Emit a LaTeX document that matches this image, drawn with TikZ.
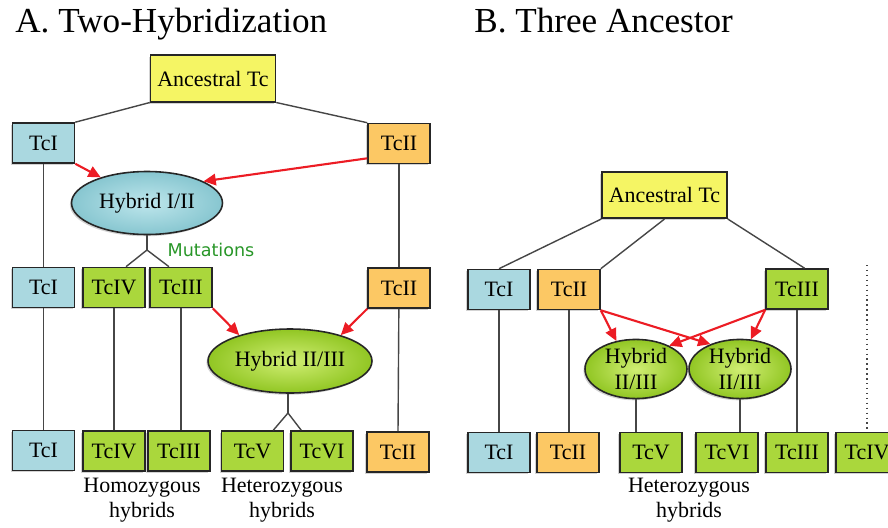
\documentclass[tikz,border=0pt]{standalone}
\usepackage{fontspec}
\setmainfont{Liberation Serif}
\newfontfamily\mutfont{DejaVu Sans}
\usepackage{xcolor}
\usetikzlibrary{arrows, arrows.meta, shapes.geometric, shadows, calc}

\definecolor{tcblue}{RGB}{170,216,224}
\definecolor{tcorange}{RGB}{252,200,100}
\definecolor{tcgreen}{RGB}{170,215,60}
\definecolor{tcyellow}{RGB}{245,245,100}
\definecolor{hybbluein}{RGB}{190,230,236}
\definecolor{hybblueout}{RGB}{135,198,208}
\definecolor{hybgreenin}{RGB}{208,238,115}
\definecolor{hybgreenout}{RGB}{145,198,35}
\definecolor{tcred}{RGB}{236,28,36}
\definecolor{mutgreen}{RGB}{40,150,40}
\definecolor{linkgray}{RGB}{70,70,70}

\tikzset{
  tcbox/.style={draw=black!85, line width=0.9pt, rectangle, inner sep=0pt,
    minimum width=1.24cm, minimum height=0.8cm, font=\fontsize{12.5}{14}\selectfont,
    drop shadow={shadow xshift=-0.9pt, shadow yshift=-1pt, opacity=0.35}},
  ancbox/.style={tcbox, fill=tcyellow, minimum width=2.5cm, minimum height=0.93cm},
  hyb/.style={draw=black!85, line width=0.9pt, ellipse, inner sep=0pt, align=center,
    font=\fontsize{12.5}{15}\selectfont, shading=radial,
    drop shadow={shadow xshift=-0.9pt, shadow yshift=-1pt, opacity=0.35}},
  link/.style={draw=linkgray, line width=0.8pt},
  cross/.style={draw=tcred, line width=1.2pt, -{Triangle[length=7pt,width=6.5pt]}},
  capt/.style={align=center, font=\fontsize{12.5}{14.5}\selectfont},
  title/.style={anchor=base west, inner sep=0pt, font=\fontsize{20}{24}\selectfont}
}

\begin{document}
\begin{tikzpicture}[x=0.02cm,y=-0.02cm]
\useasboundingbox (0,0) rectangle (888,527);
\clip (0,0) rectangle (888,527);
%A. Two-Hybridization
\node[title] (titA) at (15,33) {A. Two-Hybridization};
\node[ancbox] (ancA) at (213,78.5) {Ancestral Tc};
\node[tcbox,fill=tcblue] (tcIa) at (43.5,143) {TcI}; %top row
\node[tcbox,fill=tcorange] (tcIIa) at (399,143.5) {TcII};
\node[hyb,inner color=hybbluein,outer color=hybblueout,minimum width=3.02cm,minimum height=1.26cm] (hybA) at (147,203) {Hybrid I/II};
\node[font=\mutfont\fontsize{10}{12}\selectfont,text=mutgreen] (mutA) at (211,250) {Mutations};
\node[tcbox,fill=tcblue] (tcIb) at (43.5,287.5) {TcI}; %middle row
\node[tcbox,fill=tcgreen] (tcIVb) at (114,287.5) {TcIV};
\node[tcbox,fill=tcgreen] (tcIIIb) at (181,287.5) {TcIII};
\node[tcbox,fill=tcorange] (tcIIb) at (399,288) {TcII};
\node[hyb,inner color=hybgreenin,outer color=hybgreenout,minimum width=3.28cm,minimum height=1.28cm] (hybB) at (290,361) {Hybrid II/III};
\node[tcbox,fill=tcblue] (tcIc) at (43.5,450.5) {TcI}; %bottom row
\node[tcbox,fill=tcgreen] (tcIVc) at (114,451) {TcIV};
\node[tcbox,fill=tcgreen] (tcIIIc) at (179,451) {TcIII};
\node[tcbox,fill=tcgreen] (tcVc) at (252.5,451) {TcV};
\node[tcbox,fill=tcgreen] (tcVIc) at (322,451) {TcVI};
\node[tcbox,fill=tcorange] (tcIIc) at (398,452) {TcII};
\node[capt] (homA) at (142,500) {Homozygous\\hybrids};
\node[capt] (hetA) at (282,500) {Heterozygous\\hybrids};
\coordinate (brA) at (147,250);
\coordinate (brB) at (288,413);
\draw[link] (ancA.south west) -- (tcIa.north east);
\draw[link] (ancA.south east) -- (tcIIa.north west);
\draw[link] (tcIa) -- (tcIb);
\draw[link] (tcIb) -- (tcIc);
\draw[link] (tcIIa) -- (tcIIb);
\draw[link] (tcIIb) -- (tcIIc.north);
\draw[link] (hybA.south) -- (brA);
\draw[link] (tcIVb.60) -- (brA) -- (tcIIIb.120);
\draw[link] (tcIVb) -- (tcIVc);
\draw[link] (tcIIIb.south) -- (tcIIIb.south |- tcIIIc.north);
\draw[link] (hybB.south -| brB) -- (brB);
\draw[link] (tcVc.45) -- (brB) -- (tcVIc.135);
\draw[cross] (tcIa.south east) -- (hybA.151);
\draw[cross] (tcIIa.205) -- (hybA.21);
\draw[cross] (tcIIIb.south east) -- (hybB.153);
\draw[cross] (tcIIb.south west) -- (hybB.27);
%B. Three Ancestor
\node[title] (titB) at (474,33) {B. Three Ancestor};
\node[ancbox] (ancB) at (664.5,195) {Ancestral Tc};
\node[tcbox,fill=tcblue] (tcId) at (499,289.5) {TcI}; %top row
\node[tcbox,fill=tcorange] (tcIId) at (569,289.5) {TcII};
\node[tcbox,fill=tcgreen] (tcIIId) at (797,289) {TcIII};
\node[hyb,inner color=hybgreenin,outer color=hybgreenout,minimum width=2.04cm,minimum height=1.18cm] (hyb1) at (636,369) {Hybrid\\II/III};
\node[hyb,inner color=hybgreenin,outer color=hybgreenout,minimum width=2.04cm,minimum height=1.18cm] (hyb2) at (740,369) {Hybrid\\II/III};
\node[tcbox,fill=tcblue] (tcIe) at (499,452.5) {TcI}; %bottom row
\node[tcbox,fill=tcorange] (tcIIe) at (568,452.5) {TcII};
\node[tcbox,fill=tcgreen] (tcVe) at (651,452.5) {TcV};
\node[tcbox,fill=tcgreen] (tcVIe) at (727,452.5) {TcVI};
\node[tcbox,fill=tcgreen] (tcIIIe) at (797,452.5) {TcIII};
\node[tcbox,fill=tcgreen] (tcIVe) at (867,452.5) {TcIV};
\node[capt] (hetB) at (689,500) {Heterozygous\\hybrids};
\coordinate (dotB) at (867,265);
\draw[link] (ancB.south west) -- (tcId.north);
\draw[link] (ancB.south) -- (tcIId.north east);
\draw[link] (ancB.south east) -- (tcIIId.70);
\draw[link] (tcId) -- (tcIe);
\draw[link] (tcIId.south) -- (tcIId.south |- tcIIe.north);
\draw[link] (hyb1.south) -- (hyb1.south |- tcVe.north);
\draw[link] (hyb2.south) -- (hyb2.south |- tcVIe.north);
\draw[link] (tcIIId) -- (tcIIIe);
\draw[link,dotted,line width=1pt] (dotB) -- (tcIVe.north);
\draw[cross] (tcIId.south east) -- (hyb1.125);
\draw[cross] (tcIId.south east) -- (hyb2.140);
\draw[cross] (tcIIId.south west) -- (hyb1.35);
\draw[cross] (tcIIId.south west) -- (hyb2.70);
\end{tikzpicture}
\end{document}
